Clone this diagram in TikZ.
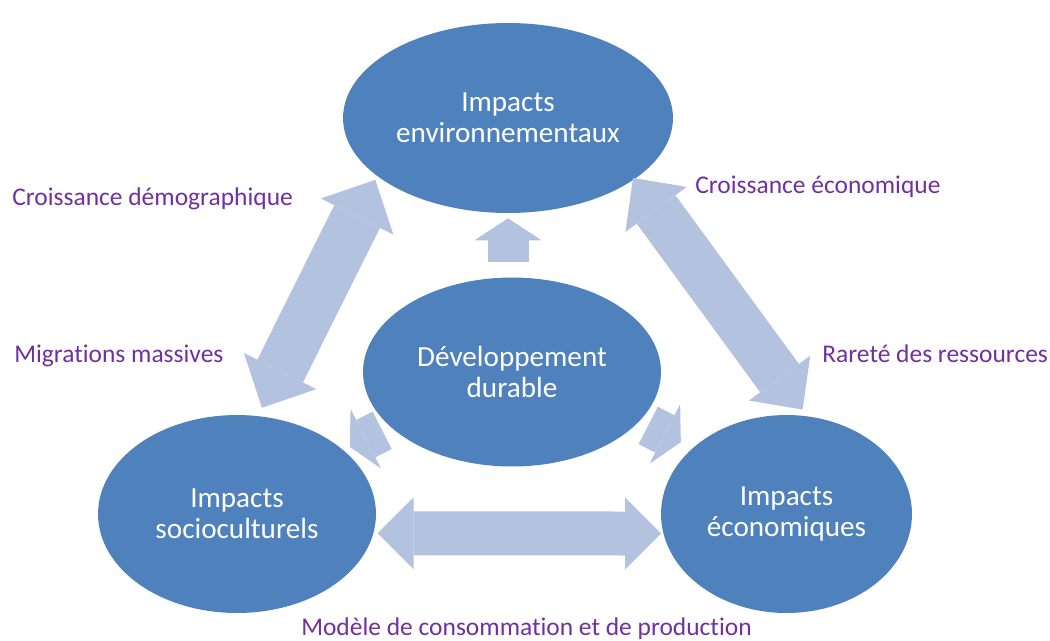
\documentclass[tikz,border=0pt]{standalone}
\usepackage{fontspec}
\setmainfont{Carlito}[Ligatures=CommonOff]
\usepackage{tikz}
\usetikzlibrary{shapes.geometric, arrows.meta, positioning}

\definecolor{bubblefill}{HTML}{4F81BD}
\definecolor{linkblue}{HTML}{B3C2DE}
\definecolor{remarkpurple}{HTML}{7030A0}

\tikzset{
  bubble/.style={ellipse, fill=bubblefill, text=white, inner sep=0pt, align=center,
    font=\fontsize{16.6}{17.6}\selectfont},
  remark/.style={text=remarkpurple, inner sep=0pt, font=\fontsize{14.5}{16}\selectfont},
  fatlink/.style n args={3}{draw=linkblue, line width=#1,
    >={Triangle[width=#2, length=#3, line width=0pt]}}
}

\begin{document}
\begin{tikzpicture}[x=0.02cm, y=-0.02cm]
\useasboundingbox (0,0) rectangle (1050,640);
%------------------------------
% the four bubbles
%______________________________
\node[bubble, minimum width=6.6cm, minimum height=3.8cm] (env) at (508,118) {Impacts\\environnementaux};
\node[bubble, minimum width=5.96cm, minimum height=3.78cm] (dd) at (512,372) {Développement\\durable};
\node[bubble, minimum width=5.56cm, minimum height=3.96cm] (socio) at (237,514) {Impacts\\socioculturels};
\node[bubble, minimum width=5.02cm, minimum height=3.96cm] (eco) at (786.5,514) {Impacts\\économiques};
%
% big double links
\draw[fatlink={1.02cm}{1.62cm}{0.82cm}, <->, shorten <=0.18cm, shorten >=0.08cm] (socio.78) -- (env.204);
\draw[fatlink={0.96cm}{1.52cm}{0.78cm}, <->, shorten <=-0.04cm, shorten >=0.16cm] (env.334) -- (eco.78);
\draw[fatlink={0.88cm}{1.44cm}{0.72cm}, <->, shorten <=0.08cm, shorten >=0.04cm] (socio.352) -- (eco.189);
%
% small links out of the centre
\draw[fatlink={0.82cm}{1.34cm}{0.44cm}, ->, shorten <=0.31cm, shorten >=0.1cm] (dd.north -| env.south) -- (env.south);
\draw[fatlink={0.84cm}{1.34cm}{0.36cm}, ->, shorten <=0.17cm, shorten >=0.14cm] (dd.204) -- (socio.31);
\draw[fatlink={0.84cm}{1.34cm}{0.36cm}, ->, shorten <=0.19cm, shorten >=0.26cm] (dd.339) -- (eco.145);
%
% remarks
\node[remark, anchor=base west] (demo) at (12,205) {Croissance démographique};
\node[remark, anchor=base west] (croiseco) at (695,193) {Croissance économique};
\node[remark, anchor=base west] (migr) at (14,362) {Migrations massives};
\node[remark, anchor=base west] (rare) at (822,362) {Rareté des ressources};
\node[remark, anchor=base] (model) at (526.5,635) {Modèle de consommation et de production};
\end{tikzpicture}
\end{document}
